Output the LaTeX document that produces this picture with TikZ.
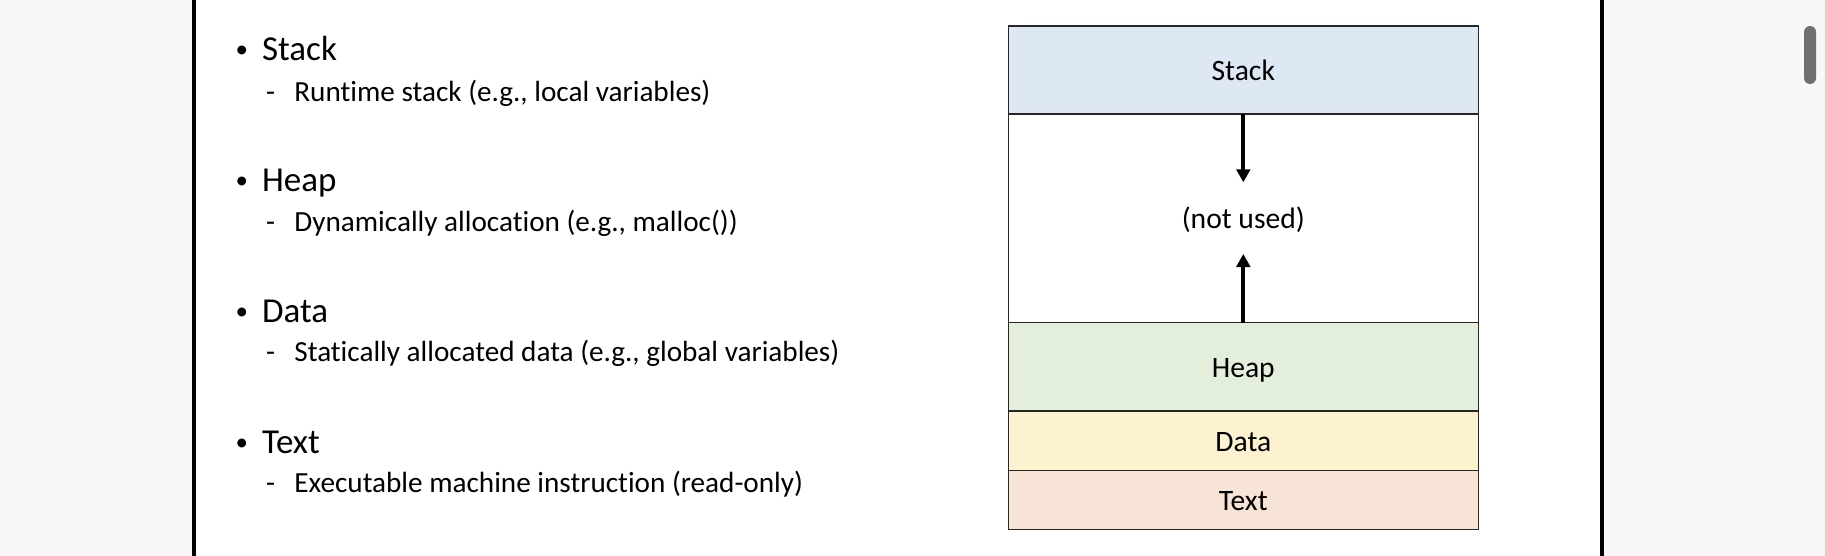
\documentclass[tikz,border=0pt]{standalone}
\usepackage{fontspec}
\setmainfont{Carlito}[Ligatures=CommonOff]
\usepackage{tikz}
\usetikzlibrary{arrows.meta,positioning}
\definecolor{cPage}{HTML}{F9F8F7}
\definecolor{cBar}{HTML}{707070}
\definecolor{cEdge}{HTML}{D0D0D0}
\definecolor{cLine}{HTML}{262626}
\definecolor{cStack}{HTML}{DEE8F4}
\definecolor{cHeap}{HTML}{E3EFDB}
\definecolor{cData}{HTML}{FDF2D0}
\definecolor{cText}{HTML}{F8E4D6}
\newcommand{\bul}{\llap{\raisebox{1.5pt}{\fontsize{12.5}{13}\selectfont\textbullet}\hspace{7pt}}}
\newcommand{\dsh}{\llap{-\hspace{9.7pt}}}
\tikzset{
  seg/.style ={draw=cLine, line width=0.75pt, minimum width=235pt, inner sep=0pt, outer sep=0pt,
               text height=10.5pt, text depth=0pt, font=\fontsize{14.8}{17}\selectfont},
  growarrow/.style={-{Triangle[length=6.5pt,width=6.8pt]}, line width=2.1pt},
  head/.style={anchor=base west, inner sep=0pt, font=\fontsize{17.5}{21}\selectfont},
  desc/.style={anchor=base west, inner sep=0pt, font=\fontsize{14.6}{17}\selectfont},
}

\begin{document}
\begin{tikzpicture}[x=0.5pt,y=-0.5pt]
        \useasboundingbox (0,0) rectangle (1826,556);
        % slide frame
        \fill[cPage] (0,0) rectangle (1826,556);
        \fill[white] (194,0) rectangle (1602,556);
        \draw[line width=2pt] (194,0) -- (194,556);
        \draw[line width=2pt] (1602,0) -- (1602,556);
        \fill[cBar, rounded corners=3pt] (1804,26) rectangle (1816,84);
        \draw[cEdge, line width=0.5pt] (1825,0) -- (1825,556);
        % left column
        \node[head] (hStack) at (261.7,60.7) {\bul Stack};
        \node[desc] (dStack) at (294,101.7)  {\dsh Runtime stack (e.g., local variables)};
        \node[head] (hHeap) at (261.7,191.7) {\bul Heap};
        \node[desc] (dHeap) at (294,231.7)   {\dsh Dynamically allocation (e.g., malloc())};
        \node[head] (hData) at (261.7,322.7) {\bul Data};
        \node[desc] (dData) at (294,361.7)   {\dsh Statically allocated data (e.g., global variables)};
        \node[head] (hText) at (261.7,453.3) {\bul Text};
        \node[desc] (dText) at (294,492.7)   {\dsh Executable machine instruction (read-only)};
        % memory layout
        \node[seg, fill=cStack, minimum height=44pt] (stack) at (1243.3,70) {Stack};
        \node[seg, fill=white, minimum height=104.35pt, below=0pt of stack] (unused) {(not used)};
        \node[seg, fill=cHeap, minimum height=44.15pt, below=0pt of unused] (heap) {Heap};
        \node[seg, fill=cData, minimum height=29.65pt, below=0pt of heap] (data) {Data};
        \node[seg, fill=cText, minimum height=29.5pt, below=0pt of data] (text) {Text};
        \coordinate (sTip) at (1243.3,182.3);
        \coordinate (hTip) at (1243.3,254);
        \draw[growarrow] (stack.south) -- (sTip);
        \draw[growarrow] (heap.north) -- (hTip);
      \end{tikzpicture}
\end{document}
